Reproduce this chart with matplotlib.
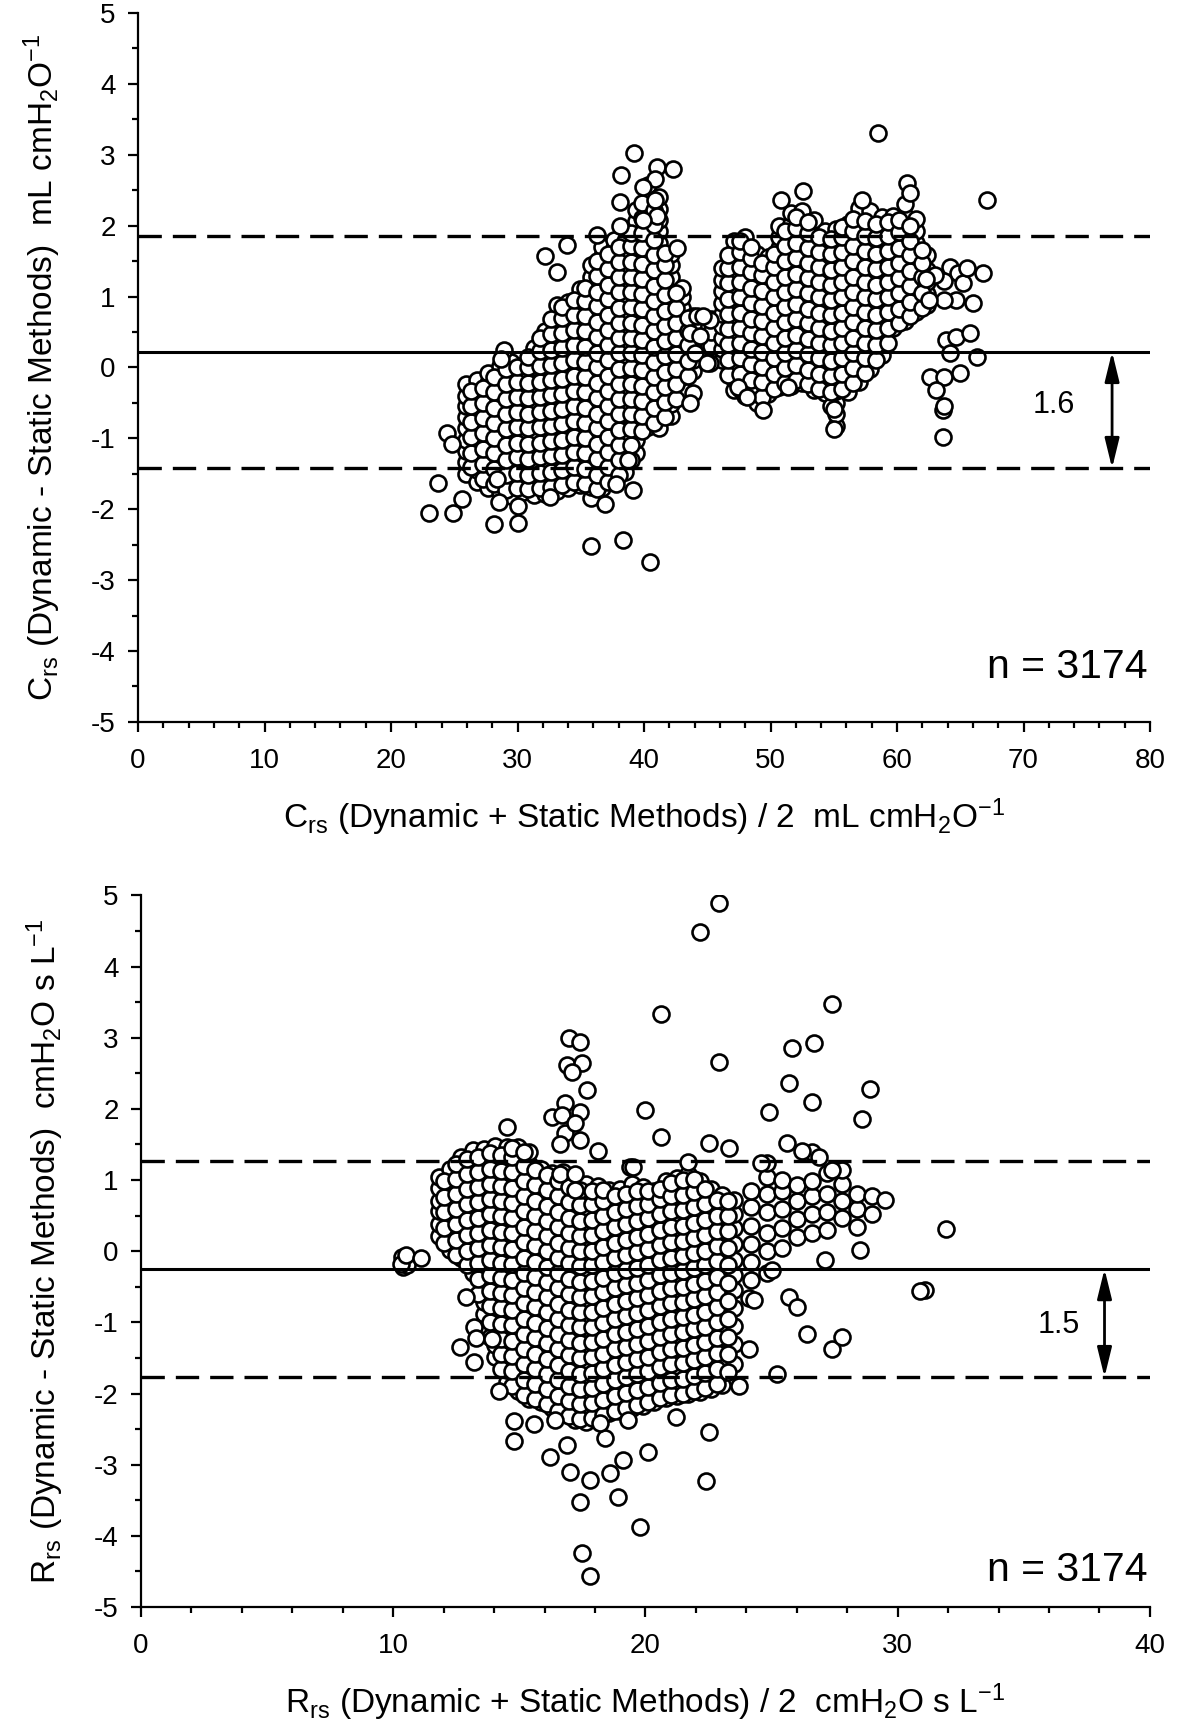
import matplotlib
matplotlib.use("Agg")
import matplotlib.pyplot as plt
from matplotlib.ticker import MultipleLocator

plt.rcParams['font.family'] = ['Liberation Sans', 'DejaVu Sans']
plt.rcParams['mathtext.fontset'] = 'custom'
plt.rcParams['mathtext.rm'] = 'Liberation Sans'
plt.rcParams['mathtext.default'] = 'regular'
plt.rcParams['axes.unicode_minus'] = False

# ---- Compliance (Crs): mean of methods vs difference ----
# dense part of the cloud, one column of points per mean value
crs_cols = [
    (25.9, [-1.50, -1.33, -1.18, -1.02, -0.86, -0.70, -0.55, -0.40, -0.24]),
    (26.8, [-1.62, -1.45, -1.29, -1.12, -0.97, -0.80, -0.64, -0.47, -0.31, -0.18]),
    (27.7, [-1.70, -1.52, -1.37, -1.20, -1.04, -0.88, -0.71, -0.55, -0.39, -0.22, -0.08]),
    (28.6, [-1.76, -1.60, -1.43, -1.27, -1.10, -0.94, -0.78, -0.62, -0.45, -0.30, -0.14, 0.02]),
    (29.5, [-1.82, -1.66, -1.49, -1.33, -1.17, -1.00, -0.84, -0.68, -0.52, -0.35, -0.19, -0.04, 0.08]),
    (30.4, [-1.75, -1.58, -1.42, -1.26, -1.09, -0.93, -0.77, -0.60, -0.44, -0.28, -0.12, 0.04]),
    (31.3, [-1.80, -1.63, -1.47, -1.30, -1.14, -0.98, -0.81, -0.65, -0.49, -0.32, -0.16, 0.00, 0.16, 0.28]),
    (32.2, [-1.78, -1.62, -1.45, -1.29, -1.12, -0.96, -0.80, -0.63, -0.47, -0.31, -0.14, 0.02, 0.18, 0.35, 0.52]),
    (33.1, [-1.74, -1.57, -1.41, -1.24, -1.08, -0.92, -0.75, -0.59, -0.43, -0.26, -0.10, 0.06, 0.23, 0.39, 0.56, 0.72, 0.88]),
    (34.0, [-1.70, -1.54, -1.37, -1.21, -1.04, -0.88, -0.72, -0.55, -0.39, -0.23, -0.06, 0.10, 0.26, 0.43, 0.59, 0.75, 0.92]),
    (34.9, [-1.66, -1.50, -1.33, -1.17, -1.01, -0.84, -0.68, -0.52, -0.35, -0.19, -0.03, 0.14, 0.30, 0.46, 0.63, 0.79, 0.96, 1.10]),
    (35.8, [-1.84, -1.68, -1.51, -1.35, -1.18, -1.02, -0.86, -0.69, -0.53, -0.37, -0.20, -0.04, 0.12, 0.29, 0.45, 0.61, 0.78, 0.94, 1.10, 1.27, 1.45]),
    (36.7, [-1.70, -1.53, -1.37, -1.21, -1.04, -0.88, -0.72, -0.55, -0.39, -0.23, -0.06, 0.10, 0.26, 0.43, 0.59, 0.75, 0.92, 1.08, 1.24, 1.41, 1.57, 1.70]),
    (37.6, [-1.58, -1.42, -1.25, -1.09, -0.93, -0.76, -0.60, -0.44, -0.27, -0.11, 0.05, 0.22, 0.38, 0.54, 0.71, 0.87, 1.03, 1.20, 1.36, 1.52, 1.69, 1.80]),
    (38.5, [-1.48, -1.31, -1.15, -0.99, -0.82, -0.66, -0.50, -0.33, -0.17, -0.01, 0.16, 0.32, 0.48, 0.65, 0.81, 0.97, 1.14, 1.30, 1.46, 1.63, 1.79, 1.95]),
    (39.4, [-1.20, -1.03, -0.87, -0.71, -0.54, -0.38, -0.22, -0.05, 0.11, 0.27, 0.44, 0.60, 0.76, 0.93, 1.09, 1.25, 1.42, 1.58, 1.74, 1.91, 2.07, 2.22]),
    (40.3, [-0.84, -0.68, -0.52, -0.35, -0.19, -0.03, 0.14, 0.30, 0.46, 0.63, 0.79, 0.95, 1.12, 1.28, 1.44, 1.61, 1.77, 1.93, 2.10, 2.26, 2.42, 2.58]),
    (41.2, [-0.86, -0.70, -0.53, -0.37, -0.21, -0.04, 0.12, 0.28, 0.45, 0.61, 0.77, 0.94, 1.10, 1.26, 1.43, 1.59, 1.75, 1.92, 2.08, 2.24, 2.40]),
    (42.1, [-0.68, -0.52, -0.35, -0.19, -0.03, 0.14, 0.30, 0.46, 0.63, 0.79, 0.95, 1.12, 1.28, 1.44, 1.60]),
    (43.0, [-0.30, -0.14, 0.03, 0.19, 0.35, 0.52, 0.68, 0.84, 1.00, 1.12]),
    (43.9, [-0.05, 0.11, 0.28, 0.44, 0.60, 0.72]),
    (45.3, [0.10, 0.30, 0.50, 0.68]),
    (46.2, [0.10, 0.26, 0.42, 0.59, 0.75, 0.91, 1.08, 1.24, 1.40]),
    (47.1, [-0.32, -0.16, 0.01, 0.17, 0.33, 0.50, 0.66, 0.82, 0.99, 1.15, 1.31, 1.48, 1.64, 1.78]),
    (48.0, [-0.40, -0.24, -0.07, 0.09, 0.25, 0.42, 0.58, 0.74, 0.91, 1.07, 1.23, 1.40, 1.56, 1.72, 1.84]),
    (48.9, [-0.50, -0.34, -0.17, -0.01, 0.15, 0.32, 0.48, 0.64, 0.81, 0.97, 1.13, 1.30, 1.46, 1.60]),
    (49.8, [-0.38, -0.22, -0.05, 0.11, 0.27, 0.44, 0.60, 0.76, 0.93, 1.09, 1.25, 1.42, 1.56]),
    (50.7, [-0.28, -0.12, 0.05, 0.21, 0.37, 0.54, 0.70, 0.86, 1.03, 1.19, 1.35, 1.52, 1.68, 1.84, 2.00]),
    (51.6, [-0.26, -0.10, 0.07, 0.23, 0.39, 0.56, 0.72, 0.88, 1.05, 1.21, 1.37, 1.54, 1.70, 1.86, 2.03, 2.18]),
    (52.5, [-0.22, -0.06, 0.11, 0.27, 0.43, 0.60, 0.76, 0.92, 1.09, 1.25, 1.41, 1.58, 1.74, 1.90, 2.07, 2.20]),
    (53.4, [-0.32, -0.16, 0.01, 0.17, 0.33, 0.50, 0.66, 0.82, 0.99, 1.15, 1.31, 1.48, 1.64, 1.80, 1.97, 2.08]),
    (54.3, [-0.36, -0.20, -0.03, 0.13, 0.29, 0.46, 0.62, 0.78, 0.95, 1.11, 1.27, 1.44, 1.60, 1.76, 1.92]),
    (55.2, [-0.82, -0.66, -0.50, -0.33, -0.17, -0.01, 0.16, 0.32, 0.48, 0.65, 0.81, 0.97, 1.14, 1.30, 1.46, 1.63, 1.79, 1.95]),
    (56.1, [-0.34, -0.18, -0.01, 0.15, 0.31, 0.48, 0.64, 0.80, 0.97, 1.13, 1.29, 1.46, 1.62, 1.78, 1.95, 2.02]),
    (57.0, [-0.20, -0.04, 0.13, 0.29, 0.45, 0.62, 0.78, 0.94, 1.11, 1.27, 1.43, 1.60, 1.76, 1.92, 2.09, 2.25]),
    (57.9, [-0.02, 0.14, 0.31, 0.47, 0.63, 0.80, 0.96, 1.12, 1.29, 1.45, 1.61, 1.78, 1.94, 2.10, 2.20]),
    (58.8, [0.18, 0.34, 0.51, 0.67, 0.83, 1.00, 1.16, 1.32, 1.49, 1.65, 1.81, 1.98, 2.12]),
    (59.7, [0.55, 0.72, 0.88, 1.04, 1.21, 1.37, 1.53, 1.70, 1.86, 2.03, 2.13]),
    (60.6, [0.66, 0.82, 0.99, 1.15, 1.31, 1.48, 1.64, 1.80, 1.97, 2.13, 2.30]),
    (61.5, [0.78, 0.94, 1.11, 1.27, 1.43, 1.60, 1.76, 1.92, 2.10]),
    (62.4, [0.88, 1.04, 1.21, 1.37, 1.58]),
]
# second, overlapping layer of the dense cloud (between the columns above)
crs_cols_b = [
    (26.35, [-1.41, -1.20, -0.98, -0.77, -0.55, -0.33]),
    (27.25, [-1.58, -1.36, -1.15, -0.93, -0.72, -0.50, -0.29]),
    (28.15, [-1.64, -1.43, -1.21, -1.00, -0.78, -0.57, -0.35, -0.14]),
    (29.05, [-1.73, -1.52, -1.30, -1.09, -0.87, -0.66, -0.44, -0.23, -0.02]),
    (29.95, [-1.70, -1.49, -1.27, -1.06, -0.84, -0.63, -0.41, -0.20, 0.00]),
    (30.85, [-1.72, -1.51, -1.29, -1.08, -0.86, -0.65, -0.43, -0.22, 0.00, 0.15]),
    (31.75, [-1.70, -1.49, -1.27, -1.06, -0.84, -0.63, -0.41, -0.20, 0.02, 0.23, 0.42]),
    (32.65, [-1.68, -1.47, -1.25, -1.04, -0.82, -0.61, -0.39, -0.18, 0.04, 0.25, 0.47, 0.68]),
    (33.55, [-1.66, -1.45, -1.23, -1.02, -0.80, -0.59, -0.37, -0.16, 0.06, 0.27, 0.49, 0.70, 0.85]),
    (34.45, [-1.62, -1.41, -1.19, -0.98, -0.76, -0.55, -0.33, -0.12, 0.10, 0.31, 0.53, 0.74, 0.95]),
    (35.35, [-1.64, -1.43, -1.21, -1.00, -0.78, -0.57, -0.35, -0.14, 0.08, 0.29, 0.51, 0.72, 0.94, 1.12]),
    (36.25, [-1.72, -1.51, -1.29, -1.08, -0.86, -0.65, -0.43, -0.22, 0.00, 0.21, 0.43, 0.64, 0.86, 1.07, 1.29, 1.50]),
    (37.15, [-1.62, -1.41, -1.19, -0.98, -0.76, -0.55, -0.33, -0.12, 0.10, 0.31, 0.53, 0.74, 0.96, 1.17, 1.39, 1.60]),
    (38.05, [-1.52, -1.31, -1.09, -0.88, -0.66, -0.45, -0.23, -0.02, 0.20, 0.41, 0.63, 0.84, 1.06, 1.27, 1.49, 1.70]),
    (38.95, [-1.30, -1.09, -0.87, -0.66, -0.44, -0.23, -0.01, 0.20, 0.42, 0.63, 0.85, 1.06, 1.28, 1.49, 1.71, 1.90]),
    (39.85, [-0.90, -0.69, -0.47, -0.26, -0.04, 0.17, 0.39, 0.60, 0.82, 1.03, 1.25, 1.46, 1.68, 1.89, 2.11, 2.32]),
    (40.75, [-0.78, -0.57, -0.35, -0.14, 0.08, 0.29, 0.51, 0.72, 0.94, 1.15, 1.37, 1.58, 1.80, 2.01, 2.22]),
    (41.65, [-0.70, -0.49, -0.27, -0.06, 0.16, 0.37, 0.59, 0.80, 1.02, 1.23, 1.45, 1.62]),
    (42.55, [-0.45, -0.24, -0.02, 0.19, 0.41, 0.62, 0.84, 1.05]),
    (43.45, [-0.12, 0.09, 0.31, 0.52, 0.70]),
    (46.65, [-0.10, 0.11, 0.33, 0.54, 0.76, 0.97, 1.19, 1.40, 1.58]),
    (47.55, [-0.30, -0.09, 0.13, 0.34, 0.56, 0.77, 0.99, 1.20, 1.42, 1.63, 1.78]),
    (48.45, [-0.38, -0.17, 0.05, 0.26, 0.48, 0.69, 0.91, 1.12, 1.34, 1.55, 1.70]),
    (49.35, [-0.42, -0.21, 0.01, 0.22, 0.44, 0.65, 0.87, 1.08, 1.30, 1.48]),
    (50.25, [-0.30, -0.09, 0.13, 0.34, 0.56, 0.77, 0.99, 1.20, 1.42, 1.60]),
    (51.15, [-0.22, -0.01, 0.21, 0.42, 0.64, 0.85, 1.07, 1.28, 1.50, 1.71, 1.92]),
    (52.05, [-0.18, 0.03, 0.25, 0.46, 0.68, 0.89, 1.11, 1.32, 1.54, 1.75, 1.96, 2.12]),
    (52.95, [-0.24, -0.03, 0.19, 0.40, 0.62, 0.83, 1.05, 1.26, 1.48, 1.69, 1.90, 2.05]),
    (53.85, [-0.30, -0.09, 0.13, 0.34, 0.56, 0.77, 0.99, 1.20, 1.42, 1.63, 1.84]),
    (54.75, [-0.55, -0.34, -0.12, 0.09, 0.31, 0.52, 0.74, 0.95, 1.17, 1.38, 1.60, 1.81]),
    (55.65, [-0.30, -0.09, 0.13, 0.34, 0.56, 0.77, 0.99, 1.20, 1.42, 1.63, 1.84, 1.98]),
    (56.55, [-0.22, -0.01, 0.21, 0.42, 0.64, 0.85, 1.07, 1.28, 1.50, 1.71, 1.92, 2.10]),
    (57.45, [-0.08, 0.13, 0.35, 0.56, 0.78, 0.99, 1.21, 1.42, 1.64, 1.85, 2.06]),
    (58.35, [0.10, 0.31, 0.53, 0.74, 0.96, 1.17, 1.39, 1.60, 1.82, 2.03]),
    (59.25, [0.35, 0.56, 0.78, 0.99, 1.21, 1.42, 1.64, 1.85, 2.05]),
    (60.15, [0.62, 0.83, 1.05, 1.26, 1.48, 1.69, 1.91, 2.08]),
    (61.05, [0.72, 0.93, 1.15, 1.36, 1.58, 1.79, 2.00]),
    (61.95, [0.84, 1.05, 1.27, 1.48, 1.66]),
]
# scattered points around the cloud
crs_extra_x = [22.97, 23.7, 24.9, 25.6, 24.4, 24.8, 28.1, 30.0, 28.5, 30.0, 28.4, 35.8, 38.3, 40.5,
               32.6, 36.9, 39.1, 37.8, 38.7, 49.4, 55.0, 55.0, 63.6, 63.6, 39.2, 38.2, 41.0, 42.3,
               40.9, 40.9, 41.0, 38.1, 39.9, 39.9, 38.1, 36.3, 33.9, 32.2, 33.1, 42.6, 58.5, 50.8,
               52.6, 57.2, 60.8, 61.0, 67.1, 66.8, 28.9, 28.7,
               64.2, 64.8, 65.2, 63.7, 66.0, 64.7, 63.7, 63.9, 64.7, 65.8, 66.3, 64.2, 62.6, 63.7,
               65.0, 63.1, 63.7, 65.5, 62.5, 63.0, 62.3,
               44.2, 45.2, 43.6, 44.4, 44.0, 45.2, 43.9, 43.6, 44.7, 44.95, 47.4, 51.4, 48.1]
crs_extra_y = [-2.05, -1.63, -2.05, -1.86, -0.92, -1.08, -2.21, -2.20, -1.90, -1.95, -1.57, -2.52, -2.44, -2.75,
               -1.83, -1.93, -1.73, -1.64, -1.30, -0.60, -0.87, -0.59, -0.98, -0.60, 3.02, 2.72, 2.83, 2.80,
               2.66, 2.36, 2.13, 2.34, 2.55, 2.08, 1.99, 1.87, 1.73, 1.57, 1.35, 1.68, 3.30, 2.36,
               2.49, 2.36, 2.60, 2.46, 2.36, 1.33, 0.25, 0.12,
               1.42, 1.33, 1.19, 1.22, 0.91, 0.95, 0.95, 0.39, 0.43, 0.48, 0.15, 0.20, -0.13, -0.13,
               -0.08, -0.32, -0.55, 1.40, 0.95, 1.30, 1.25,
               0.72, 0.67, 0.48, 0.44, 0.20, 0.06, -0.36, -0.50, 0.72, 0.06, -0.27, -0.27, -0.41]

# ---- Resistance (Rrs) ----
rrs_cols = [
    (11.8, [0.21, 0.38, 0.56, 0.71, 0.89, 1.04]),
    (12.25, [0.02, 0.17, 0.35, 0.50, 0.68, 0.83, 1.00, 1.15]),
    (12.7, [-0.10, 0.07, 0.22, 0.40, 0.55, 0.73, 0.88, 1.06, 1.20, 1.32]),
    (13.15, [-0.31, -0.13, 0.02, 0.20, 0.35, 0.53, 0.69, 0.86, 1.01, 1.18, 1.33, 1.42]),
    (13.6, [-0.88, -0.71, -0.55, -0.37, -0.21, -0.04, 0.13, 0.29, 0.46, 0.63, 0.78, 0.96, 1.11, 1.29, 1.44]),
    (14.05, [-1.49, -1.32, -1.16, -0.99, -0.82, -0.66, -0.49, -0.33, -0.16, 0.01, 0.18, 0.34, 0.51, 0.67, 0.84, 1.00, 1.17, 1.33, 1.48]),
    (14.5, [-1.84, -1.67, -1.51, -1.34, -1.18, -1.01, -0.85, -0.68, -0.52, -0.35, -0.19, -0.02, 0.14, 0.31, 0.47, 0.64, 0.80, 0.97, 1.13, 1.30, 1.47]),
    (14.95, [-1.97, -1.80, -1.63, -1.47, -1.30, -1.14, -0.97, -0.81, -0.64, -0.48, -0.31, -0.15, 0.02, 0.18, 0.35, 0.51, 0.68, 0.84, 1.01, 1.17, 1.34, 1.46]),
    (15.4, [-2.07, -1.90, -1.74, -1.57, -1.41, -1.24, -1.08, -0.91, -0.75, -0.58, -0.42, -0.25, -0.09, 0.08, 0.24, 0.41, 0.57, 0.74, 0.90, 1.07, 1.23, 1.39]),
    (15.85, [-2.12, -1.95, -1.79, -1.62, -1.46, -1.29, -1.13, -0.96, -0.80, -0.63, -0.47, -0.30, -0.14, 0.03, 0.19, 0.36, 0.52, 0.69, 0.85, 1.02, 1.15]),
    (16.3, [-2.21, -2.05, -1.88, -1.72, -1.55, -1.39, -1.22, -1.06, -0.89, -0.73, -0.56, -0.40, -0.23, -0.07, 0.10, 0.26, 0.43, 0.59, 0.76, 0.92, 1.10]),
    (16.75, [-2.29, -2.12, -1.96, -1.79, -1.63, -1.46, -1.30, -1.13, -0.97, -0.80, -0.64, -0.47, -0.31, -0.14, 0.02, 0.19, 0.35, 0.52, 0.68, 0.85, 1.01, 1.12]),
    (17.2, [-2.37, -2.21, -2.04, -1.88, -1.71, -1.55, -1.38, -1.22, -1.05, -0.89, -0.72, -0.56, -0.39, -0.23, -0.06, 0.10, 0.27, 0.43, 0.60, 0.76, 0.93, 1.02]),
    (17.65, [-2.40, -2.23, -2.07, -1.90, -1.74, -1.57, -1.41, -1.24, -1.08, -0.91, -0.75, -0.58, -0.42, -0.25, -0.09, 0.08, 0.24, 0.41, 0.57, 0.74, 0.94]),
    (18.1, [-2.34, -2.18, -2.01, -1.85, -1.68, -1.52, -1.35, -1.19, -1.02, -0.86, -0.69, -0.53, -0.36, -0.20, -0.03, 0.13, 0.30, 0.46, 0.63, 0.79, 0.92]),
    (18.55, [-2.28, -2.11, -1.95, -1.78, -1.62, -1.45, -1.29, -1.12, -0.96, -0.79, -0.63, -0.46, -0.30, -0.13, 0.03, 0.20, 0.36, 0.53, 0.69, 0.86]),
    (19.0, [-2.24, -2.08, -1.91, -1.75, -1.58, -1.42, -1.25, -1.09, -0.92, -0.76, -0.59, -0.43, -0.26, -0.10, 0.07, 0.23, 0.40, 0.56, 0.73, 0.88]),
    (19.45, [-2.20, -2.03, -1.87, -1.70, -1.54, -1.37, -1.21, -1.04, -0.88, -0.71, -0.55, -0.38, -0.22, -0.05, 0.11, 0.28, 0.44, 0.61, 0.77, 0.94]),
    (19.9, [-2.17, -2.01, -1.84, -1.68, -1.51, -1.35, -1.18, -1.02, -0.85, -0.69, -0.52, -0.36, -0.19, -0.03, 0.14, 0.30, 0.47, 0.63, 0.80, 0.90]),
    (20.35, [-2.12, -1.95, -1.79, -1.62, -1.46, -1.29, -1.13, -0.96, -0.80, -0.63, -0.47, -0.30, -0.14, 0.03, 0.19, 0.36, 0.52, 0.69, 0.85]),
    (20.8, [-2.06, -1.89, -1.73, -1.56, -1.40, -1.23, -1.07, -0.90, -0.74, -0.57, -0.41, -0.24, -0.08, 0.09, 0.25, 0.42, 0.58, 0.75, 0.91, 0.99]),
    (21.25, [-2.04, -1.87, -1.71, -1.54, -1.38, -1.21, -1.05, -0.88, -0.72, -0.55, -0.39, -0.22, -0.06, 0.11, 0.27, 0.44, 0.60, 0.77, 0.93, 1.03]),
    (21.7, [-2.01, -1.84, -1.68, -1.51, -1.35, -1.18, -1.02, -0.85, -0.69, -0.52, -0.36, -0.19, -0.03, 0.14, 0.30, 0.47, 0.63, 0.80, 0.96, 1.08]),
    (22.15, [-1.98, -1.81, -1.65, -1.48, -1.32, -1.15, -0.99, -0.82, -0.66, -0.49, -0.33, -0.16, 0.00, 0.17, 0.33, 0.50, 0.66, 0.83, 0.99]),
    (22.6, [-1.94, -1.77, -1.61, -1.44, -1.28, -1.11, -0.95, -0.78, -0.62, -0.45, -0.29, -0.12, 0.04, 0.21, 0.37, 0.54, 0.70, 0.88]),
    (23.05, [-1.88, -1.71, -1.55, -1.38, -1.22, -1.05, -0.89, -0.72, -0.56, -0.39, -0.23, -0.06, 0.10, 0.27, 0.43, 0.60, 0.79]),
    (23.5, [-1.58, -1.30, -1.05, -0.80, -0.55, -0.33, -0.12, 0.10, 0.32, 0.52, 0.72]),
    (24.2, [-0.40, -0.15, 0.10, 0.35, 0.62, 0.85]),
    (24.8, [-0.30, 0.00, 0.25, 0.55, 0.80, 1.05, 1.24]),
    (25.4, [0.05, 0.32, 0.60, 0.85, 1.00]),
    (26.0, [0.20, 0.45, 0.70, 0.93]),
    (26.6, [0.25, 0.52, 0.77, 0.98, 1.40]),
    (27.2, [0.30, 0.55, 0.80, 1.10]),
    (27.8, [0.46, 0.70, 0.95, 1.14]),
    (28.4, [0.34, 0.60, 0.80]),
    (29.0, [0.53, 0.78]),
]
rrs_cols_b = [
    (12.02, [0.12, 0.33, 0.55, 0.76, 0.98]),
    (12.48, [-0.05, 0.16, 0.38, 0.59, 0.81, 1.02, 1.22]),
    (12.92, [-0.20, 0.01, 0.23, 0.44, 0.66, 0.87, 1.09, 1.30]),
    (13.38, [-0.60, -0.39, -0.17, 0.04, 0.26, 0.47, 0.69, 0.90, 1.12, 1.33]),
    (13.82, [-1.20, -0.99, -0.77, -0.56, -0.34, -0.13, 0.09, 0.30, 0.52, 0.73, 0.95, 1.16, 1.38]),
    (14.28, [-1.66, -1.45, -1.23, -1.02, -0.80, -0.59, -0.37, -0.16, 0.06, 0.27, 0.49, 0.70, 0.92, 1.13, 1.35]),
    (14.72, [-1.90, -1.69, -1.47, -1.26, -1.04, -0.83, -0.61, -0.40, -0.18, 0.03, 0.25, 0.46, 0.68, 0.89, 1.11, 1.32, 1.45]),
    (15.18, [-2.02, -1.81, -1.59, -1.38, -1.16, -0.95, -0.73, -0.52, -0.30, -0.09, 0.13, 0.34, 0.56, 0.77, 0.99, 1.20, 1.40]),
    (15.62, [-2.08, -1.87, -1.65, -1.44, -1.22, -1.01, -0.79, -0.58, -0.36, -0.15, 0.07, 0.28, 0.50, 0.71, 0.93, 1.14]),
    (16.08, [-2.15, -1.94, -1.72, -1.51, -1.29, -1.08, -0.86, -0.65, -0.43, -0.22, 0.00, 0.21, 0.43, 0.64, 0.86, 1.07]),
    (16.52, [-2.24, -2.03, -1.81, -1.60, -1.38, -1.17, -0.95, -0.74, -0.52, -0.31, -0.09, 0.12, 0.34, 0.55, 0.77, 0.98]),
    (16.98, [-2.32, -2.11, -1.89, -1.68, -1.46, -1.25, -1.03, -0.82, -0.60, -0.39, -0.17, 0.04, 0.26, 0.47, 0.69, 0.90]),
    (17.42, [-2.36, -2.15, -1.93, -1.72, -1.50, -1.29, -1.07, -0.86, -0.64, -0.43, -0.21, 0.00, 0.22, 0.43, 0.65, 0.86]),
    (17.88, [-2.35, -2.14, -1.92, -1.71, -1.49, -1.28, -1.06, -0.85, -0.63, -0.42, -0.20, 0.01, 0.23, 0.44, 0.66, 0.85]),
    (18.32, [-2.30, -2.09, -1.87, -1.66, -1.44, -1.23, -1.01, -0.80, -0.58, -0.37, -0.15, 0.06, 0.28, 0.49, 0.71, 0.86]),
    (18.78, [-2.24, -2.03, -1.81, -1.60, -1.38, -1.17, -0.95, -0.74, -0.52, -0.31, -0.09, 0.12, 0.34, 0.55, 0.77]),
    (19.22, [-2.20, -1.99, -1.77, -1.56, -1.34, -1.13, -0.91, -0.70, -0.48, -0.27, -0.05, 0.16, 0.38, 0.59, 0.81]),
    (19.68, [-2.16, -1.95, -1.73, -1.52, -1.30, -1.09, -0.87, -0.66, -0.44, -0.23, -0.01, 0.20, 0.42, 0.63, 0.85]),
    (20.12, [-2.12, -1.91, -1.69, -1.48, -1.26, -1.05, -0.83, -0.62, -0.40, -0.19, 0.03, 0.24, 0.46, 0.67, 0.84]),
    (20.58, [-2.06, -1.85, -1.63, -1.42, -1.20, -0.99, -0.77, -0.56, -0.34, -0.13, 0.09, 0.30, 0.52, 0.73, 0.88]),
    (21.02, [-2.02, -1.81, -1.59, -1.38, -1.16, -0.95, -0.73, -0.52, -0.30, -0.09, 0.13, 0.34, 0.56, 0.77, 0.96]),
    (21.48, [-2.00, -1.79, -1.57, -1.36, -1.14, -0.93, -0.71, -0.50, -0.28, -0.07, 0.15, 0.36, 0.58, 0.79, 1.00]),
    (21.92, [-1.96, -1.75, -1.53, -1.32, -1.10, -0.89, -0.67, -0.46, -0.24, -0.03, 0.19, 0.40, 0.62, 0.83, 1.02]),
    (22.38, [-1.92, -1.71, -1.49, -1.28, -1.06, -0.85, -0.63, -0.42, -0.20, 0.01, 0.23, 0.44, 0.66, 0.87]),
    (22.82, [-1.86, -1.65, -1.43, -1.22, -1.00, -0.79, -0.57, -0.36, -0.14, 0.07, 0.29, 0.50, 0.72]),
    (23.28, [-1.70, -1.45, -1.20, -0.95, -0.70, -0.45, -0.20, 0.05, 0.28, 0.50, 0.70]),
]
rrs_extra_x = [10.35, 10.45, 10.4, 10.55, 10.3, 10.5, 11.1,
               12.9, 13.2, 13.3, 12.65, 13.2, 13.9, 14.2, 14.8, 14.8, 15.6, 16.4, 16.2, 17.0, 17.4,
               17.8, 17.5, 17.8, 16.9, 18.9, 18.4, 18.6, 19.1, 20.1, 19.8, 22.4, 22.5, 21.2, 19.3,
               18.2, 23.7, 24.1, 25.7, 26.0, 26.4, 27.4, 27.8, 24.1, 25.2, 31.1, 30.9, 24.3,
               14.5, 16.97, 17.4, 16.9, 17.5, 17.1, 17.7, 20.0, 20.6, 22.9, 27.4, 25.8, 26.7, 25.7,
               26.6, 28.9, 28.6, 24.9, 22.5, 23.3, 25.6, 26.2, 26.9, 18.1, 19.4, 21.7, 24.6, 27.4,
               29.5, 31.9, 16.3, 16.8, 22.15, 22.9, 20.6, 16.7, 17.4, 17.4, 16.8, 17.2, 16.6, 16.6,
               17.2, 17.2, 19.5, 27.1, 28.5, 25.0]
rrs_extra_y = [-0.08, -0.15, -0.22, -0.20, -0.18, -0.05, -0.10,
               -0.64, -1.06, -1.22, -1.34, -1.55, -1.23, -1.96, -2.39, -2.67, -2.43, -2.37, -2.89, -3.10, -3.52,
               -3.22, -4.24, -4.57, -2.72, -3.46, -2.63, -3.11, -2.94, -2.82, -3.87, -3.23, -2.54, -2.33, -2.37,
               -2.42, -1.90, -0.66, -0.64, -0.79, -1.16, -1.38, -1.21, -1.37, -1.73, -0.55, -0.56, -0.69,
               1.75, 2.99, 2.94, 2.62, 2.64, 2.52, 2.27, 1.98, 1.61, 2.66, 3.47, 2.85, 2.93, 2.36,
               2.10, 2.28, 1.86, 1.95, 1.52, 1.45, 1.52, 1.41, 1.33, 1.41, 1.19, 1.26, 1.24, 1.14,
               0.72, 0.31, 1.89, 2.08, 4.49, 4.89, 3.33, 1.91, 1.96, 1.56, 1.66, 1.80, 1.50, 1.09,
               1.09, 0.86, 1.19, -0.12, 0.02, -0.27]

crs_mean, crs_upper, crs_lower = 0.22, 1.86, -1.42
rrs_mean, rrs_upper, rrs_lower = -0.25, 1.27, -1.77


def flatten(cols, ex_x, ex_y):
    xs, ys = [], []
    for x, vals in cols:
        xs += [x] * len(vals)
        ys += vals
    return xs + ex_x, ys + ex_y


def style_axes(ax, xmax, xmajor):
    ax.set_xlim(0, xmax)
    ax.set_ylim(-5, 5)
    ax.spines['top'].set_visible(False)
    ax.spines['right'].set_visible(False)
    for s in ['left', 'bottom']:
        ax.spines[s].set_linewidth(1.6)
    ax.xaxis.set_major_locator(MultipleLocator(xmajor))
    ax.xaxis.set_minor_locator(MultipleLocator(2))
    ax.yaxis.set_major_locator(MultipleLocator(1))
    ax.yaxis.set_minor_locator(MultipleLocator(0.5))
    ax.tick_params(which='major', direction='out', length=7, width=1.6, labelsize=20)
    ax.tick_params(which='minor', direction='out', length=4.5, width=1.6)
    ax.tick_params(axis='x', which='major', pad=12)
    ax.tick_params(axis='y', which='major', pad=9)


fig = plt.figure(figsize=(11.8, 17.3), dpi=100)
ax1 = fig.add_axes([0.117, 0.5827, 0.8576, 0.4098])
ax2 = fig.add_axes([0.1195, 0.0711, 0.855, 0.4113])

panels = [
    (ax1, crs_cols + crs_cols_b, crs_extra_x, crs_extra_y, crs_mean, crs_upper, crs_lower, 80, 77.0,
     '1.6', (72.4, -0.53), -4.22,
     r'C$_{rs}$ (Dynamic + Static Methods) / 2  mL cmH$_2$O$^{-1}$',
     r'C$_{rs}$ (Dynamic - Static Methods)  mL cmH$_2$O$^{-1}$'),
    (ax2, rrs_cols + rrs_cols_b, rrs_extra_x, rrs_extra_y, rrs_mean, rrs_upper, rrs_lower, 40, 38.2,
     '1.5', (36.4, -1.04), -4.48,
     r'R$_{rs}$ (Dynamic + Static Methods) / 2  cmH$_2$O s L$^{-1}$',
     r'R$_{rs}$ (Dynamic - Static Methods)  cmH$_2$O s L$^{-1}$'),
]

for (ax, cols, ex_x, ex_y, mean, upper, lower, xmax, arrow_x,
     sd_txt, sd_pos, n_y, xlab, ylab) in panels:
    xs, ys = flatten(cols, ex_x, ex_y)
    ax.plot(xs, ys, 'o', ls='none', ms=11.5, mfc='white', mec='black', mew=1.9, zorder=2)
    ax.axhline(mean, color='black', lw=2.2, zorder=3)
    ax.axhline(upper, color='black', lw=2.4, ls=(0, (7, 3.3)), zorder=3)
    ax.axhline(lower, color='black', lw=2.4, ls=(0, (7, 3.3)), zorder=3)
    ax.annotate('', xy=(arrow_x, lower), xytext=(arrow_x, mean),
                arrowprops=dict(arrowstyle='<|-|>,head_length=0.9,head_width=0.22',
                                color='black', lw=2, mutation_scale=20,
                                shrinkA=0, shrinkB=0), zorder=4)
    ax.text(sd_pos[0], sd_pos[1], sd_txt, ha='center', va='center', fontsize=22)
    ax.text(xmax - 0.2 * xmax / 80, n_y, 'n = 3174', ha='right', va='center', fontsize=29.5)
    style_axes(ax, xmax, 10)
    ax.set_xlabel(xlab, fontsize=24)
    ax.set_ylabel(ylab, fontsize=24)
    ax.xaxis.set_label_coords(0.5, -0.105)
    ax.yaxis.set_label_coords(-0.074, 0.5)

fig.savefig('out.png', dpi=100)
